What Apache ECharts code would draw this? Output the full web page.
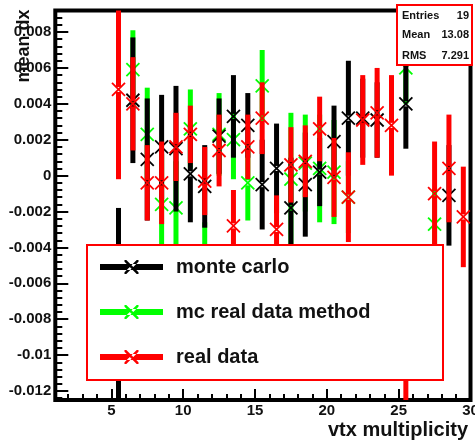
<!DOCTYPE html>
<html>
<head>
<meta charset="utf-8">
<script src="https://cdn.jsdelivr.net/npm/echarts@6/dist/echarts.min.js"></script>
<style>
  html, body { margin: 0; padding: 0; background: #fff; }
  #chart { width: 475px; height: 443px; }
</style>
</head>
<body>
<div id="chart"></div>
<script>
// mean dx versus vertex multiplicity, three samples with error bars

// monte carlo
const mcX    = [5.5, 6.5, 7.5, 8.5, 9.5, 10.5, 11.5, 12.5, 13.5, 14.5, 15.5, 16.5, 17.5, 18.5, 19.5, 20.5, 21.5, 22.5, 23.5, 25.5, 28.5];
const mcMean = [-0.0076, 0.0042, 0.0009, 0.0016, 0.0015, 0.0001, -0.0006, 0.0022, 0.0033, 0.0028, -0.0005, 0.0004, -0.0018, -0.0005, 0.0002, 0.0019, 0.0032, 0.0032, 0.0031, 0.0040, -0.0011];
const mcErr  = [0.0058, 0.0035, 0.0034, 0.0029, 0.0035, 0.0027, 0.0023, 0.0021, 0.0023, 0.0018, 0.0025, 0.0025, 0.0028, 0.0029, 0.0019, 0.0020, 0.0032, 0.0022, 0.0021, 0.0025, 0.0028];

// mc real data method
const mcrdX    = [6.5, 7.5, 8.5, 9.5, 10.5, 11.5, 12.5, 13.5, 14.5, 15.5, 17.5, 18.5, 19.5, 20.5, 21.5, 25.5, 27.5];
const mcrdMean = [0.0059, 0.0023, -0.0016, -0.0018, 0.0026, -0.0050, 0.0023, 0.0020, -0.0004, 0.0050, -0.0002, 0.0007, 0.0004, 0.0002, -0.0012, 0.0060, -0.0027];
const mcrdErr  = [0.0022, 0.0026, 0.0028, 0.0026, 0.0022, 0.0024, 0.0023, 0.0022, 0.0021, 0.0020, 0.0037, 0.0027, 0.0030, 0.0029, 0.0020, 0.0020, 0.0020];

// real data
const dataX    = [5.5, 6.5, 7.5, 8.5, 9.5, 10.5, 11.5, 12.5, 13.5, 14.5, 15.5, 16.5, 17.5, 18.5, 19.5, 20.5, 21.5, 22.5, 23.5, 24.5, 25.5, 27.5, 28.5, 29.5];
const dataMean = [0.0048, 0.0040, -0.0004, -0.0004, 0.0016, 0.0023, -0.0003, 0.0014, -0.0028, 0.0016, 0.0032, -0.0030, 0.0006, 0.0008, 0.0026, -0.0001, -0.0012, 0.0031, 0.0035, 0.0028, -0.0095, -0.0010, 0.0004, -0.0023];
const dataErr  = [0.0050, 0.0026, 0.0021, 0.0023, 0.0019, 0.0016, 0.0019, 0.0020, 0.0020, 0.0018, 0.0020, 0.0019, 0.0021, 0.0020, 0.0018, 0.0022, 0.0025, 0.0025, 0.0025, 0.0028, 0.0045, 0.0029, 0.0030, 0.0028];

// axes
const xMajorTicks = [5, 10, 15, 20, 25, 30];
const xTickLabels = ['5', '10', '15', '20', '25', '30'];
const yMajorTicks = [-0.012, -0.010, -0.008, -0.006, -0.004, -0.002, 0, 0.002, 0.004, 0.006, 0.008];
const yTickLabels = ['-0.012', '-0.01', '-0.008', '-0.006', '-0.004', '-0.002', '0', '0.002', '0.004', '0.006', '0.008'];

// stats box
const statNames  = ['Entries', 'Mean', 'RMS'];
const statValues = ['19', '13.08', '7.291'];

const FONT = '"Liberation Sans", Arial, Helvetica, sans-serif';
const X_MIN = 1.1, X_MAX = 30;
const Y_MIN = -0.0125, Y_MAX = 0.0092;

const xMinorTicks = [];
for (let k = 2; k < 30; k++) if (k % 5 !== 0) xMinorTicks.push(k);
const yMinorTicks = [];
for (let k = -31; k <= 23; k++) if (k % 5 !== 0) yMinorTicks.push(k * 0.0004);

function toTriples(xs, ms, es) {
  return xs.map((x, i) => [x, ms[i], es[i]]);
}

function yLabel(v) {
  let best = 0;
  yMajorTicks.forEach((t, i) => { if (Math.abs(t - v) < Math.abs(yMajorTicks[best] - v)) best = i; });
  return yTickLabels[best];
}
function xLabel(v) {
  const i = xMajorTicks.indexOf(Math.round(v));
  return i >= 0 ? xTickLabels[i] : '';
}

// thick vertical error bar with a small gap at the point, plus an "x" marker
function errorBar(color) {
  return function (params, api) {
    const cs = params.coordSys;
    const top = cs.y, bottom = cs.y + cs.height;
    const x = api.value(0), v = api.value(1), e = api.value(2);
    const c = api.coord([x, v]);
    const hi = Math.max(api.coord([x, v + e])[1], top);
    const lo = Math.min(api.coord([x, v - e])[1], bottom);
    const w = 5, gap = 2.5, m = 6.5;
    const kids = [];
    const upEnd = Math.min(c[1] - gap, lo);
    if (upEnd > hi) kids.push({ type: 'rect', shape: { x: c[0] - w / 2, y: hi, width: w, height: upEnd - hi }, style: { fill: color } });
    const lowStart = Math.max(c[1] + gap, hi);
    if (lo > lowStart) kids.push({ type: 'rect', shape: { x: c[0] - w / 2, y: lowStart, width: w, height: lo - lowStart }, style: { fill: color } });
    if (c[1] >= top && c[1] <= bottom) {
      kids.push({ type: 'line', shape: { x1: c[0] - m, y1: c[1] - m, x2: c[0] + m, y2: c[1] + m }, style: { stroke: color, lineWidth: 1.8 } });
      kids.push({ type: 'line', shape: { x1: c[0] - m, y1: c[1] + m, x2: c[0] + m, y2: c[1] - m }, style: { stroke: color, lineWidth: 1.8 } });
    }
    return { type: 'group', children: kids };
  };
}

// legend icon: thick line with an x across it
const legendIcon = 'path://M0 4 H63 V10 H0 Z' +
  ' M24.5 0 L26.3 0 L38.5 12.2 L38.5 14 L36.7 14 L24.5 1.8 Z' +
  ' M38.5 0 L36.7 0 L24.5 12.2 L24.5 14 L26.3 14 L38.5 1.8 Z';

function errSeries(name, color, triples) {
  return {
    name: name,
    type: 'custom',
    coordinateSystem: 'cartesian2d',
    xAxisIndex: 0, yAxisIndex: 0,
    itemStyle: { color: color },
    encode: { x: 0, y: 1 },
    renderItem: errorBar(color),
    data: triples,
    z: 2,
    silent: true
  };
}

const tickLine = { color: '#000', width: 2 };
const labelStyle = { fontFamily: FONT, fontWeight: 'bold', fontSize: 15, color: '#111' };
const hiddenLine = { show: false, onZero: false };

const chart = echarts.init(document.getElementById('chart'), null, { renderer: 'canvas' });
chart.setOption({
  animation: false,
  backgroundColor: '#fff',
  grid: {
    left: 55.3, right: 4.5, top: 10.5, bottom: 43,
    show: true, borderColor: '#000', borderWidth: 4,
    outerBoundsMode: 'none', containLabel: false
  },
  xAxis: [
    {
      type: 'value', min: X_MIN, max: X_MAX, position: 'bottom',
      axisLine: hiddenLine, splitLine: { show: false },
      axisTick: { inside: true, length: 11, lineStyle: tickLine, customValues: xMajorTicks },
      axisLabel: Object.assign({ customValues: xMajorTicks, formatter: xLabel, margin: 3 }, labelStyle),
      name: 'vtx multiplicity', nameLocation: 'end', nameGap: -2.5,
      nameTextStyle: { fontFamily: FONT, fontWeight: 'bold', fontSize: 20, color: '#111', align: 'right', verticalAlign: 'top', padding: [20, 0, 0, 0] }
    },
    {
      type: 'value', min: X_MIN, max: X_MAX, position: 'bottom', offset: 0,
      axisLine: hiddenLine, splitLine: { show: false }, axisLabel: { show: false },
      axisTick: { inside: true, length: 6, lineStyle: tickLine, customValues: xMinorTicks }
    }
  ],
  yAxis: [
    {
      type: 'value', min: Y_MIN, max: Y_MAX, position: 'left',
      axisLine: hiddenLine, splitLine: { show: false },
      axisTick: { inside: true, length: 13, lineStyle: tickLine, customValues: yMajorTicks },
      axisLabel: Object.assign({ customValues: yMajorTicks, formatter: yLabel, margin: 4 }, labelStyle)
    },
    {
      type: 'value', min: Y_MIN, max: Y_MAX, position: 'left', offset: 0,
      axisLine: hiddenLine, splitLine: { show: false }, axisLabel: { show: false },
      axisTick: { inside: true, length: 7, lineStyle: tickLine, customValues: yMinorTicks }
    }
  ],
  legend: {
    orient: 'vertical', left: 100, top: 257, padding: 0, itemGap: 25,
    itemWidth: 63, itemHeight: 14, selectedMode: false, z: 60,
    data: [
      { name: 'monte carlo', icon: legendIcon },
      { name: 'mc real data method', icon: legendIcon },
      { name: 'real data', icon: legendIcon }
    ],
    textStyle: { fontFamily: FONT, fontWeight: 'bold', fontSize: 20, lineHeight: 20, color: '#111', padding: [0, 0, 0, 8] }
  },
  graphic: [
    { type: 'rect', z: 50, shape: { x: 87, y: 245, width: 356, height: 135 }, style: { fill: '#fff', stroke: '#ff0000', lineWidth: 2 } },
    { type: 'rect', z: 50, shape: { x: 397, y: 5, width: 75, height: 60 }, style: { fill: '#fff', stroke: '#ff0000', lineWidth: 2 } },
    { type: 'text', z: 51, x: 402, y: 16, style: { text: statNames[0], font: 'bold 11px ' + FONT, fill: '#111', verticalAlign: 'middle', align: 'left' } },
    { type: 'text', z: 51, x: 469, y: 16, style: { text: statValues[0], font: 'bold 11px ' + FONT, fill: '#111', verticalAlign: 'middle', align: 'right' } },
    { type: 'text', z: 51, x: 402, y: 35, style: { text: statNames[1], font: 'bold 11px ' + FONT, fill: '#111', verticalAlign: 'middle', align: 'left' } },
    { type: 'text', z: 51, x: 469, y: 35, style: { text: statValues[1], font: 'bold 11px ' + FONT, fill: '#111', verticalAlign: 'middle', align: 'right' } },
    { type: 'text', z: 51, x: 402, y: 56, style: { text: statNames[2], font: 'bold 11px ' + FONT, fill: '#111', verticalAlign: 'middle', align: 'left' } },
    { type: 'text', z: 51, x: 469, y: 56, style: { text: statValues[2], font: 'bold 11px ' + FONT, fill: '#111', verticalAlign: 'middle', align: 'right' } },
    { type: 'text', z: 51, x: 24, y: 46, rotation: Math.PI / 2, style: { text: 'mean dx', font: 'bold 18px ' + FONT, fill: '#111', verticalAlign: 'middle', align: 'center' } }
  ],
  series: [
    errSeries('mc real data method', '#00ff00', toTriples(mcrdX, mcrdMean, mcrdErr)),
    errSeries('monte carlo', '#000000', toTriples(mcX, mcMean, mcErr)),
    errSeries('real data', '#ff0000', toTriples(dataX, dataMean, dataErr))
  ]
});
</script>
</body>
</html>
